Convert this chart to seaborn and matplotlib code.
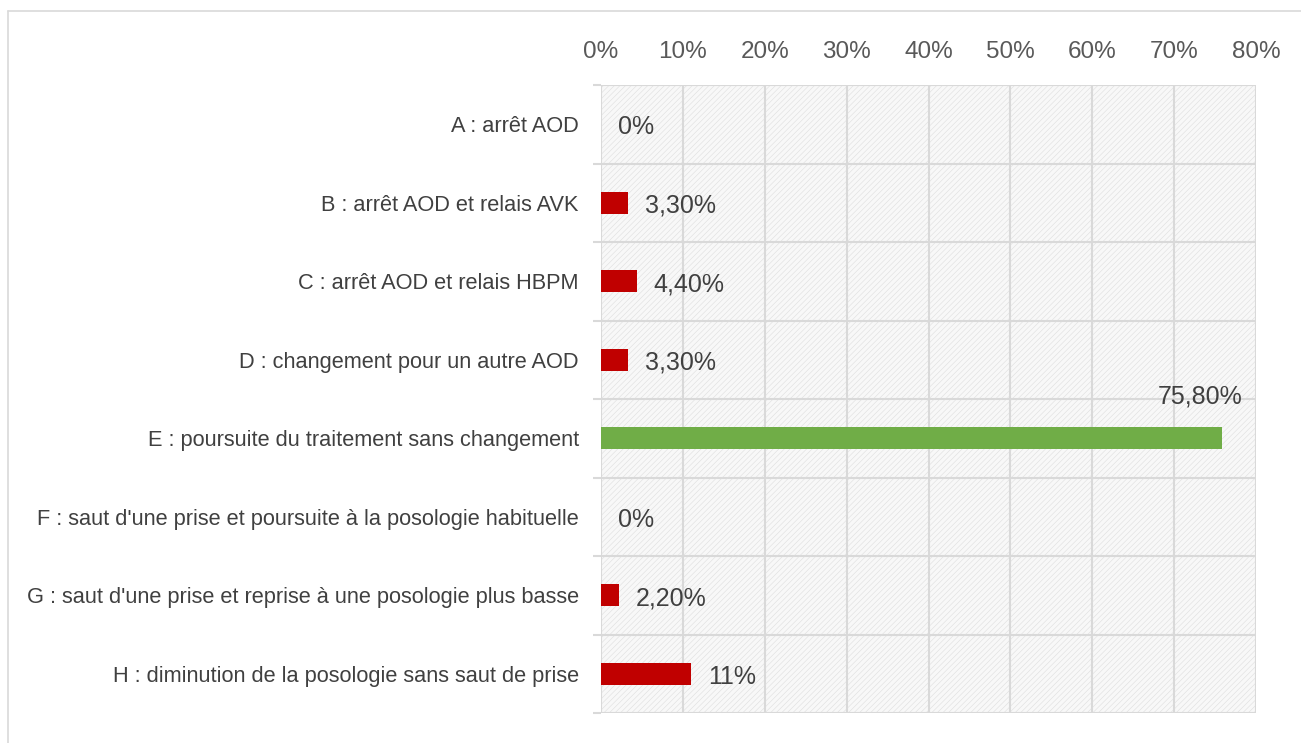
import numpy as np
import pandas as pd
import matplotlib
matplotlib.use("Agg")
import matplotlib.pyplot as plt
import seaborn as sns
from matplotlib.patches import Rectangle
from matplotlib.lines import Line2D
from matplotlib.ticker import FixedLocator

# ===================== DATA =====================
categories = [
    "A : arrêt AOD",
    "B : arrêt AOD et relais AVK",
    "C : arrêt AOD et relais HBPM",
    "D : changement pour un autre AOD",
    "E : poursuite du traitement sans changement",
    "F : saut d'une prise et poursuite à la posologie habituelle",
    "G : saut d'une prise et reprise à une posologie plus basse",
    "H : diminution de la posologie sans saut de prise",
]
values = [0, 3.3, 4.4, 3.3, 75.8, 0, 2.2, 11]
value_labels = ["0%", "3,30%", "4,40%", "3,30%", "75,80%", "0%", "2,20%", "11%"]
bar_colors = ["#C00000", "#C00000", "#C00000", "#C00000", "#70AD47",
              "#C00000", "#C00000", "#C00000"]
x_ticks = [0, 10, 20, 30, 40, 50, 60, 70, 80]

df = pd.DataFrame({"categorie": categories, "pct": values})

# ===================== PLOT =====================
sns.set_style("white")
plt.rcParams["font.family"] = ["Liberation Sans", "DejaVu Sans"]
plt.rcParams["hatch.linewidth"] = 0.4

fig = plt.figure(figsize=(13.01, 7.43), dpi=100)
ax = fig.add_axes([601 / 1301, 1 - 713 / 743, (1256 - 601) / 1301, (713 - 85) / 743])

sns.barplot(data=df, x="pct", y="categorie", hue="categorie",
            palette=bar_colors, legend=False, width=0.28,
            saturation=1, linewidth=0, ax=ax, zorder=3)

# hatched light grey background
ax.add_patch(Rectangle((0, 0), 1, 1, transform=ax.transAxes,
                       facecolor="#f8f8f8", edgecolor="#dedede",
                       hatch="//////", lw=0, zorder=0))

ax.set_xlim(0, 80)
ax.set_ylim(len(categories) - 0.5, -0.5)
ax.xaxis.set_major_locator(FixedLocator(x_ticks))
ax.set_xticklabels([f"{t}%" for t in x_ticks])
ax.xaxis.tick_top()
ax.tick_params(axis="x", length=0, pad=16, labelsize=17.5, labelcolor="#595959")
ax.tick_params(axis="y", which="major", length=0, pad=16, labelsize=15.7,
               labelcolor="#404040")
ax.yaxis.set_minor_locator(FixedLocator(np.arange(-0.5, len(categories), 1)))
ax.tick_params(axis="y", which="minor", left=True, length=6, width=1.5,
               color="#d9d9d9")
ax.grid(axis="x", which="major", color="#d9d9d9", lw=1.5, zorder=1)
ax.grid(axis="y", which="minor", color="#d9d9d9", lw=1.5, zorder=1)
ax.set_axisbelow(True)
ax.set_xlabel("")
ax.set_ylabel("")
for s in ax.spines.values():
    s.set_visible(False)

# data labels
for i, (v, lab) in enumerate(zip(values, value_labels)):
    if v > 50:
        ax.annotate(lab, (v, i), xytext=(15, 30), textcoords="offset points",
                    ha="right", va="center", fontsize=18, color="#404040")
    else:
        ax.annotate(lab, (v, i), xytext=(12, -2), textcoords="offset points",
                    ha="left", va="center", fontsize=18, color="#404040")

# chart border
fig.add_artist(Line2D([8 / 1301, 8 / 1301], [0, 1 - 11 / 743],
                      color="#d9d9d9", lw=1.2, transform=fig.transFigure))
fig.add_artist(Line2D([8 / 1301, 1], [1 - 11 / 743, 1 - 11 / 743],
                      color="#d9d9d9", lw=1.2, transform=fig.transFigure))

fig.savefig("out.png", dpi=100, facecolor="white")
